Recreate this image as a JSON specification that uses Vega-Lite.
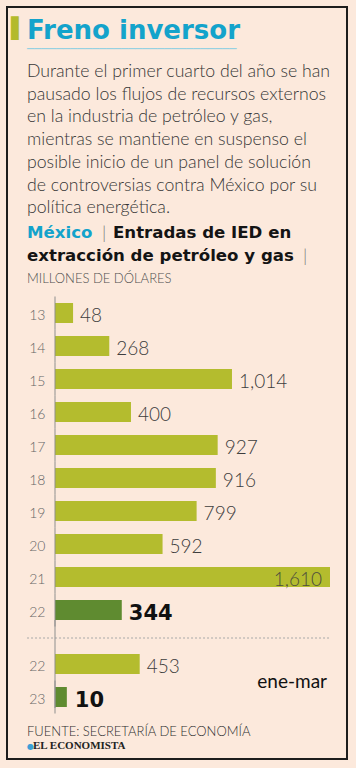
{
  "$schema": "https://vega.github.io/schema/vega-lite/v6.json",
  "background": "#fce9dc",
  "padding": {"left": 6, "top": 6, "right": 8, "bottom": 8},
  "config": {
    "view": {"stroke": null},
    "title": {"anchor": "start", "frame": "bounds", "font": "Lato"}
  },
  "datasets": {
    "anual": [
      {"anio": "13", "valor": 48, "tipo": "normal"},
      {"anio": "14", "valor": 268, "tipo": "normal"},
      {"anio": "15", "valor": 1014, "tipo": "normal"},
      {"anio": "16", "valor": 400, "tipo": "normal"},
      {"anio": "17", "valor": 927, "tipo": "normal"},
      {"anio": "18", "valor": 916, "tipo": "normal"},
      {"anio": "19", "valor": 799, "tipo": "normal"},
      {"anio": "20", "valor": 592, "tipo": "normal"},
      {"anio": "21", "valor": 1610, "tipo": "normal"},
      {"anio": "22", "valor": 344, "tipo": "destacado"}
    ],
    "enemar": [
      {"anio": "22", "valor": 453, "tipo": "normal"},
      {"anio": "23", "valor": 10, "tipo": "destacado"}
    ]
  },
  "title": {
    "text": "Freno inversor",
    "subtitle": "─────────────────────────────",
    "font": "DejaVu Sans", "fontSize": 26, "fontWeight": "bold", "color": "#13a3cb",
    "subtitleFont": "DejaVu Sans", "subtitleFontSize": 12, "subtitleColor": "#8ccfe2",
    "subtitlePadding": 0, "offset": -49, "dx": 21
  },
  "vconcat": [{
    "title": {
      "text": [
        "Durante el primer cuarto del año se han",
        "pausado los flujos de recursos externos",
        "en la industria de petróleo y gas,",
        "mientras se mantiene en suspenso el",
        "posible inicio de un panel de solución",
        "de controversias contra México por su",
        "política energética."
      ],
      "font": "Lato", "fontSize": 17.7, "fontWeight": 300, "color": "#363636", "lineHeight": 22.7,
      "offset": -210.9, "dx": 21
    },
    "vconcat": [{
      "title": {"text": "México", "font": "DejaVu Sans", "fontSize": 16.6, "fontWeight": "bold", "color": "#13a3cb", "offset": -235.6, "dx": 21},
      "vconcat": [{
        "title": {"text": "|", "font": "Lato", "fontSize": 18, "fontWeight": 300, "color": "#7a7a7a", "offset": -237, "dx": 96},
        "vconcat": [{
          "title": {"text": "Entradas de IED en", "font": "DejaVu Sans", "fontSize": 16.6, "fontWeight": "bold", "color": "#141414", "offset": -235.6, "dx": 107},
          "vconcat": [{
            "title": {
              "text": "extracción de petróleo y gas",
              "subtitle": "MILLONES DE DÓLARES",
              "font": "DejaVu Sans", "fontSize": 16.6, "fontWeight": "bold", "color": "#141414",
              "subtitleFont": "Lato", "subtitleFontSize": 13, "subtitleFontWeight": 300, "subtitleColor": "#505050",
              "subtitlePadding": 8.4, "offset": -280, "dx": 21
            },
            "vconcat": [{
              "title": {"text": "|", "font": "Lato", "fontSize": 18, "fontWeight": 300, "color": "#7a7a7a", "offset": -260, "dx": 297},
              "vconcat": [{
                "title": {
                  "text": "FUENTE: SECRETARÍA DE ECONOMÍA",
                  "font": "Lato", "fontSize": 13, "fontWeight": 300, "color": "#2e2e2e",
                  "offset": -733, "dx": 21
                },
                "vconcat": [{
                  "title": {"text": "EL ECONOMISTA", "font": "Liberation Serif", "fontSize": 11, "fontWeight": "bold", "color": "#222222", "offset": -745, "dx": 27},
                  "vconcat": [{
                    "title": {"text": "●", "font": "DejaVu Sans", "fontSize": 8, "color": "#3b9fd6", "offset": -745, "dx": 21},
                    "vconcat": [{
                      "width": 340,
                      "height": 752,
                      "view": {"stroke": "#1d1d1d", "strokeWidth": 2},
                      "title": {"text": "▌", "font": "DejaVu Sans", "fontSize": 20, "color": "#b3ba2c", "offset": -31.5, "dx": 4},
                      "resolve": {"scale": {"y": "independent"}, "axis": {"y": "independent"}},
                      "layer": [
                        {
                          "data": {"name": "anual"},
                          "layer": [
                            {
                              "mark": {"type": "bar"},
                              "encoding": {
                                "y": {"field": "anio", "type": "nominal", "sort": null,
                                  "scale": {"domain": ["13", "14", "15", "16", "17", "18", "19", "20", "21", "22"], "range": [296, 613], "paddingInner": 0.3939, "paddingOuter": 0},
                                  "axis": {"orient": "left", "offset": -48, "title": null, "domain": false, "ticks": false, "tickSize": 0, "grid": false, "labelPadding": 10, "labelFont": "Lato", "labelFontSize": 14, "labelColor": "#666666", "labelFontWeight": 300, "labelOffset": 3}},
                                "x": {"field": "valor", "type": "quantitative", "scale": {"domain": [-353.84, 1713.36], "nice": false, "zero": false}, "axis": null},
                                "x2": {"datum": -62},
                                "color": {"field": "tipo", "type": "nominal", "scale": {"domain": ["normal", "destacado"], "range": ["#b4bc2e", "#5f8b30"]}, "legend": null}
                              }
                            },
                            {
                              "mark": {"type": "rect", "height": {"band": 1.65}, "color": "#8f8f8f"},
                              "encoding": {
                                "y": {"field": "anio", "type": "nominal", "sort": null},
                                "x": {"datum": -65},
                                "x2": {"datum": -59}
                              }
                            },
                            {
                              "transform": [{"filter": "datum.tipo == 'normal' && datum.valor < 1500"}],
                              "mark": {"type": "text", "align": "left", "baseline": "middle", "dx": 7, "dy": 3, "font": "Lato", "fontWeight": 300, "fontSize": 19, "color": "#3d3d3d"},
                              "encoding": {
                                "y": {"field": "anio", "type": "nominal", "sort": null},
                                "x": {"field": "valor", "type": "quantitative"},
                                "text": {"field": "valor", "type": "quantitative", "format": ","}
                              }
                            },
                            {
                              "transform": [{"filter": "datum.valor >= 1500"}],
                              "mark": {"type": "text", "align": "right", "baseline": "middle", "dx": -8, "dy": 3, "font": "Lato", "fontWeight": 300, "fontSize": 19, "color": "#4d4d3d"},
                              "encoding": {
                                "y": {"field": "anio", "type": "nominal", "sort": null},
                                "x": {"field": "valor", "type": "quantitative"},
                                "text": {"field": "valor", "type": "quantitative", "format": ","}
                              }
                            },
                            {
                              "transform": [{"filter": "datum.tipo == 'destacado'"}],
                              "mark": {"type": "text", "align": "left", "baseline": "middle", "dx": 7, "dy": 4, "font": "DejaVu Sans", "fontWeight": "bold", "fontSize": 21, "color": "#111111"},
                              "encoding": {
                                "y": {"field": "anio", "type": "nominal", "sort": null},
                                "x": {"field": "valor", "type": "quantitative"},
                                "text": {"field": "valor", "type": "quantitative", "format": ","}
                              }
                            },
                            {
                              "transform": [{"filter": "datum.anio == '22'"}],
                              "mark": {"type": "rule", "strokeDash": [2, 2], "color": "#a8a8a8", "strokeWidth": 1},
                              "encoding": {
                                "x": {"datum": -232},
                                "x2": {"datum": 1610},
                                "y": {"field": "anio", "type": "nominal", "sort": null, "bandPosition": 1.9}
                              }
                            }
                          ]
                        },
                        {
                          "data": {"name": "enemar"},
                          "layer": [
                            {
                              "mark": {"type": "bar"},
                              "encoding": {
                                "y": {"field": "anio", "type": "nominal", "sort": null,
                                  "scale": {"domain": ["22", "23"], "range": [647, 700], "paddingInner": 0.3939, "paddingOuter": 0},
                                  "axis": {"orient": "left", "offset": -48, "title": null, "domain": false, "ticks": false, "tickSize": 0, "grid": false, "labelPadding": 10, "labelFont": "Lato", "labelFontSize": 14, "labelColor": "#666666", "labelFontWeight": 300, "labelOffset": 3}},
                                "x": {"field": "valor", "type": "quantitative"},
                                "x2": {"datum": -62},
                                "color": {"field": "tipo", "type": "nominal", "legend": null}
                              }
                            },
                            {
                              "transform": [{"filter": "datum.anio == '22'"}],
                              "mark": {"type": "rect", "height": {"band": 4.4}, "color": "#8f8f8f"},
                              "encoding": {
                                "y": {"field": "anio", "type": "nominal", "sort": null},
                                "x": {"datum": -65},
                                "x2": {"datum": -59}
                              }
                            },
                            {
                              "transform": [{"filter": "datum.anio == '23'"}],
                              "mark": {"type": "rect", "height": {"band": 1.65}, "color": "#8f8f8f"},
                              "encoding": {
                                "y": {"field": "anio", "type": "nominal", "sort": null},
                                "x": {"datum": -65},
                                "x2": {"datum": -59}
                              }
                            },
                            {
                              "transform": [{"filter": "datum.tipo == 'normal'"}],
                              "mark": {"type": "text", "align": "left", "baseline": "middle", "dx": 7, "dy": 3, "font": "Lato", "fontWeight": 300, "fontSize": 19, "color": "#3d3d3d"},
                              "encoding": {
                                "y": {"field": "anio", "type": "nominal", "sort": null},
                                "x": {"field": "valor", "type": "quantitative"},
                                "text": {"field": "valor", "type": "quantitative", "format": ","}
                              }
                            },
                            {
                              "transform": [{"filter": "datum.tipo == 'destacado'"}],
                              "mark": {"type": "text", "align": "left", "baseline": "middle", "dx": 8, "dy": 4, "font": "DejaVu Sans", "fontWeight": "bold", "fontSize": 21, "color": "#111111"},
                              "encoding": {
                                "y": {"field": "anio", "type": "nominal", "sort": null},
                                "x": {"field": "valor", "type": "quantitative"},
                                "text": {"field": "valor", "type": "quantitative", "format": ","}
                              }
                            },
                            {
                              "transform": [{"filter": "datum.anio == '23'"}, {"calculate": "'ene-mar'", "as": "nota"}],
                              "mark": {"type": "text", "align": "right", "baseline": "alphabetic", "dx": -3, "dy": 1, "font": "Lato", "fontSize": 19, "color": "#111111"},
                              "encoding": {
                                "x": {"datum": 1610},
                                "y": {"field": "anio", "type": "nominal", "sort": null, "bandPosition": 0},
                                "text": {"field": "nota"}
                              }
                            }
                          ]
                        }
                      ]
                    }]
                  }]
                }]
              }]
            }]
          }]
        }]
      }]
    }]
  }]
}
